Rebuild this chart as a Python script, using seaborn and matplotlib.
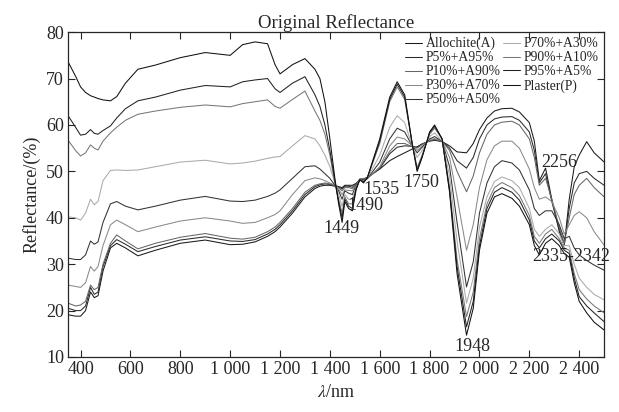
import numpy as np
import pandas as pd
import seaborn as sns
import matplotlib.pyplot as plt

sns.set_style("ticks")
plt.rcParams['font.family'] = ['Liberation Serif', 'DejaVu Serif']
plt.rcParams['mathtext.fontset'] = 'stix'

# wavelength grid (nm) shared by all spectra
wl = [350, 380, 400, 420, 440, 455, 470, 490, 520, 545,
      580, 630, 700, 800, 900, 1000, 1050, 1100, 1150, 1180,
      1200, 1250, 1300, 1340, 1360, 1380, 1400, 1420, 1435, 1449,
      1460, 1475, 1490, 1505, 1520, 1535, 1550, 1600, 1640, 1670,
      1700, 1730, 1750, 1770, 1800, 1820, 1850, 1880, 1910, 1948,
      1975, 2000, 2030, 2060, 2090, 2130, 2160, 2200, 2220, 2240,
      2265, 2290, 2320, 2340, 2360, 2380, 2400, 2430, 2460, 2500]

allochite = [19.1, 18.8, 18.8, 20, 24, 22.8, 23.2, 28.5, 33.5, 34.5,
             33.5, 31.8, 33, 34.5, 35.2, 34.2, 34.3, 34.8, 36, 37,
             38, 41, 44.5, 46.3, 46.8, 47, 47, 46.8, 46.7, 46.5,
             47, 47, 47, 47.4, 48.2, 48.4, 48.7, 50.5, 52.3, 53.2,
             54, 54.8, 55.3, 55.9, 56.5, 56.7, 56.4, 55.5, 54.2, 54,
             56, 59, 61.5, 63, 63.5, 63.6, 62.8, 60.5, 56.5, 48,
             50.7, 44, 37, 34, 44, 51, 53.5, 56.4, 54, 52]
p5 = [20.5, 20, 20, 21, 25, 23.5, 24, 29.5, 34, 35.3,
      34.3, 32.7, 33.8, 35.2, 35.9, 35, 34.9, 35.3, 36.5, 37.5,
      38.5, 41.5, 45, 46.7, 47.1, 47.3, 47.2, 47, 46.7, 46.2,
      46.8, 46.8, 46.6, 47.3, 48.3, 48.4, 48.6, 50.6, 53.8, 55.2,
      55.5, 55.4, 55.2, 55.9, 56.6, 56.8, 56.5, 55, 52.3, 50.7,
      53, 57, 60, 61.3, 61.7, 61.8, 61, 58.5, 54.5, 47.5,
      49.5, 43.5, 37.5, 34.2, 42, 47.5, 49.5, 50, 48.5, 47]
p10 = [21.6, 21, 21.2, 22, 25.5, 24.5, 25, 30, 34.5, 36.3,
       35, 33.3, 34.5, 35.8, 36.6, 35.6, 35.4, 35.8, 37, 38,
       39, 42, 45.5, 47, 47.3, 47.5, 47.3, 47, 46.5, 45.8,
       46.5, 46.5, 46.3, 47.2, 48.3, 48.4, 48.5, 50.8, 54.3, 56,
       56, 55.3, 55, 55.8, 56.6, 56.9, 56.5, 54.5, 50, 45.6,
       49, 54, 58, 60, 60.6, 60.8, 60, 57, 53, 47,
       48.5, 44, 38, 34.5, 40, 45, 47, 48.5, 46.5, 44.5]
p30 = [25.5, 25.2, 25, 26, 29.5, 28.5, 29.5, 34, 38.5, 39.5,
       38.5, 37, 38, 39.3, 40, 39.3, 38.8, 39, 40, 40.7,
       41.5, 45, 48, 48.6, 48.4, 48, 47.5, 47, 46.2, 45,
       46, 45.9, 45.8, 47, 48.3, 48.3, 48.4, 51, 55.5, 57.4,
       57, 55.5, 54.5, 55.4, 56.8, 57.1, 56.5, 53, 44.5, 33,
       38.5, 46.5, 52.5, 55.5, 56.5, 56.5, 55, 50.5, 46.5, 44,
       44.5, 43.5, 40, 36.5, 38.5, 40.5, 41.3, 40, 37, 34.1]
p50 = [31.3, 31, 31, 32, 35, 34.3, 34.8, 39, 43, 43.5,
       42.5, 41.7, 42.5, 43.8, 44.6, 43.6, 43.5, 43.8, 44.6, 45.3,
       46, 48.5, 51, 51.2, 50.5, 49.5, 48.5, 47, 45.8, 44,
       45.8, 45.3, 45, 47, 48.3, 48.2, 48.4, 52, 57, 59.3,
       58.5, 55.5, 54, 55.2, 57, 57.5, 56.5, 51, 39, 25.1,
       30.5, 41, 47.5, 51, 52.3, 51.8, 50.3, 46, 42, 40.5,
       41.5, 41.5, 38.5, 35.5, 36, 33.5, 32, 30.8, 29.8, 28.7]
p70 = [40.2, 40, 39.5, 41, 44, 42.8, 43.5, 48, 50.2, 50.3,
       50.2, 50.3, 51, 52, 52.4, 51.6, 51.8, 52.2, 52.8, 53.1,
       53.2, 55.5, 57.7, 57, 55.5, 53.5, 51, 47.5, 45, 42.5,
       45, 44, 44, 46.7, 48.2, 48, 48.5, 53.5, 59.5, 62,
       60.5, 55.5, 53, 54.5, 57.5, 58.3, 56.5, 49, 35, 21.6,
       27, 38, 44.5, 47.8, 48.8, 48, 46.5, 42, 37.5, 36,
       37.5, 38.5, 36.5, 34, 34, 30, 27, 25, 23.5, 22.3]
p90 = [56.7, 54.5, 53.3, 54, 55.7, 55, 54.6, 56.5, 58.3, 59.5,
       61, 62.3, 63, 63.8, 64.3, 63.9, 64.6, 65, 65.4, 64,
       63.6, 65.5, 67.3, 63, 61, 58, 53.5, 47.5, 44, 41,
       44.5, 43, 43, 46.5, 48.2, 47.9, 48.6, 56, 65, 68.2,
       65.5, 56, 50.8, 53.5, 58, 59.3, 57, 46.5, 31, 18.7,
       24, 35.5, 43, 46.5, 47.6, 46.5, 44.8, 40.5, 36, 34.5,
       36.5, 37.5, 35.5, 33.5, 33, 28, 24.5, 22.5, 21, 19.5]
p95 = [62, 59.5, 57.8, 58, 59, 58.2, 58, 58.8, 59.8, 61.5,
       63.5, 65.2, 66, 67.5, 68.5, 68.2, 69.3, 69.7, 70, 67.8,
       67, 69, 70.4, 66.5, 64, 60, 54.5, 48, 43.5, 40,
       44, 42.5, 42, 46.3, 48.2, 47.7, 48.6, 56.5, 65.5, 68.8,
       66, 56, 50.3, 53.2, 58.3, 59.7, 57, 46, 29.5, 16.5,
       22, 34, 42, 45.5, 46.5, 45.5, 43.8, 39.5, 35, 33.5,
       35.5, 36.5, 35, 33, 32.3, 27, 23, 21, 19.5, 17.6]
plaster = [73.6, 70.5, 68.2, 67, 66.3, 66, 65.7, 65.4, 65.2, 66.1,
           69, 72, 72.9, 74.5, 75.6, 75, 77.3, 77.9, 77.5, 73,
           71, 73, 74.3, 72, 70, 65, 57, 48.5, 43, 39,
           43.5, 42, 41.5, 46, 48.2, 47.5, 48.6, 57, 66, 69.3,
           66.5, 56, 50, 53, 58.5, 60, 57, 45.5, 28, 14.7,
           20.5, 33, 41, 44.5, 45.2, 44.2, 42.5, 38.5, 34, 32,
           34.5, 35.5, 34, 32.3, 31.5, 26, 22, 19.5, 17.5, 15.8]

labels = ["Allochite(A)", "P5%+A95%", "P10%+A90%", "P30%+A70%", "P50%+A50%",
          "P70%+A30%", "P90%+A10%", "P95%+A5%", "Plaster(P)"]
series = [allochite, p5, p10, p30, p50, p70, p90, p95, plaster]
colors = ["#1a1a1a", "#2a2a2a", "#666666", "#8a8a8a", "#333333",
          "#aaaaaa", "#777777", "#222222", "#111111"]

df = pd.concat([pd.DataFrame({"wl": wl, "refl": vals, "sample": lab})
                for lab, vals in zip(labels, series)], ignore_index=True)

fig = plt.figure(figsize=(6.19, 4.12), dpi=100)
ax = fig.add_axes([0.110, 0.1335, 0.866, 0.7885])
sns.lineplot(data=df, x="wl", y="refl", hue="sample", hue_order=labels,
             palette=colors, estimator=None, sort=False, linewidth=0.75, ax=ax)

ax.set_xlim(350, 2500)
ax.set_ylim(10, 80)
xt = list(range(400, 2401, 200))
ax.set_xticks(xt)
ax.set_xticklabels([f"{v:,}".replace(",", " ") for v in xt])
ax.set_yticks(range(10, 81, 10))
ax.tick_params(direction="in", top=True, right=True, length=5, width=0.8,
               labelsize=13, pad=3)
for s in ax.spines.values():
    s.set_linewidth(0.9)

ax.set_title("Original Reflectance", fontsize=13.5, pad=3)
ax.set_xlabel(r"$\lambda$/nm", fontsize=13, labelpad=4)
ax.set_ylabel("Reflectance/(%)", fontsize=13, labelpad=4)

# absorption feature annotations
notes = [("1449", 1445, 37.6), ("1490", 1541, 42.7), ("1535", 1605, 46.0),
         ("1750", 1765, 47.5), ("1948", 1973, 12.2), ("2256", 2319, 52.0)]
for txt, x, y in notes:
    ax.text(x, y, txt, fontsize=13, ha="center", va="center")
ax.text(2210, 31.6, "2335-2342", fontsize=13, ha="left", va="center", clip_on=False)

ax.legend(ncol=2, loc="upper right", bbox_to_anchor=(0.99, 0.985), frameon=False,
          fontsize=9.8, handlelength=1.2, handletextpad=0.3, columnspacing=0.2,
          labelspacing=0.07, borderpad=0, borderaxespad=0)

fig.savefig("out.png", dpi=100)
